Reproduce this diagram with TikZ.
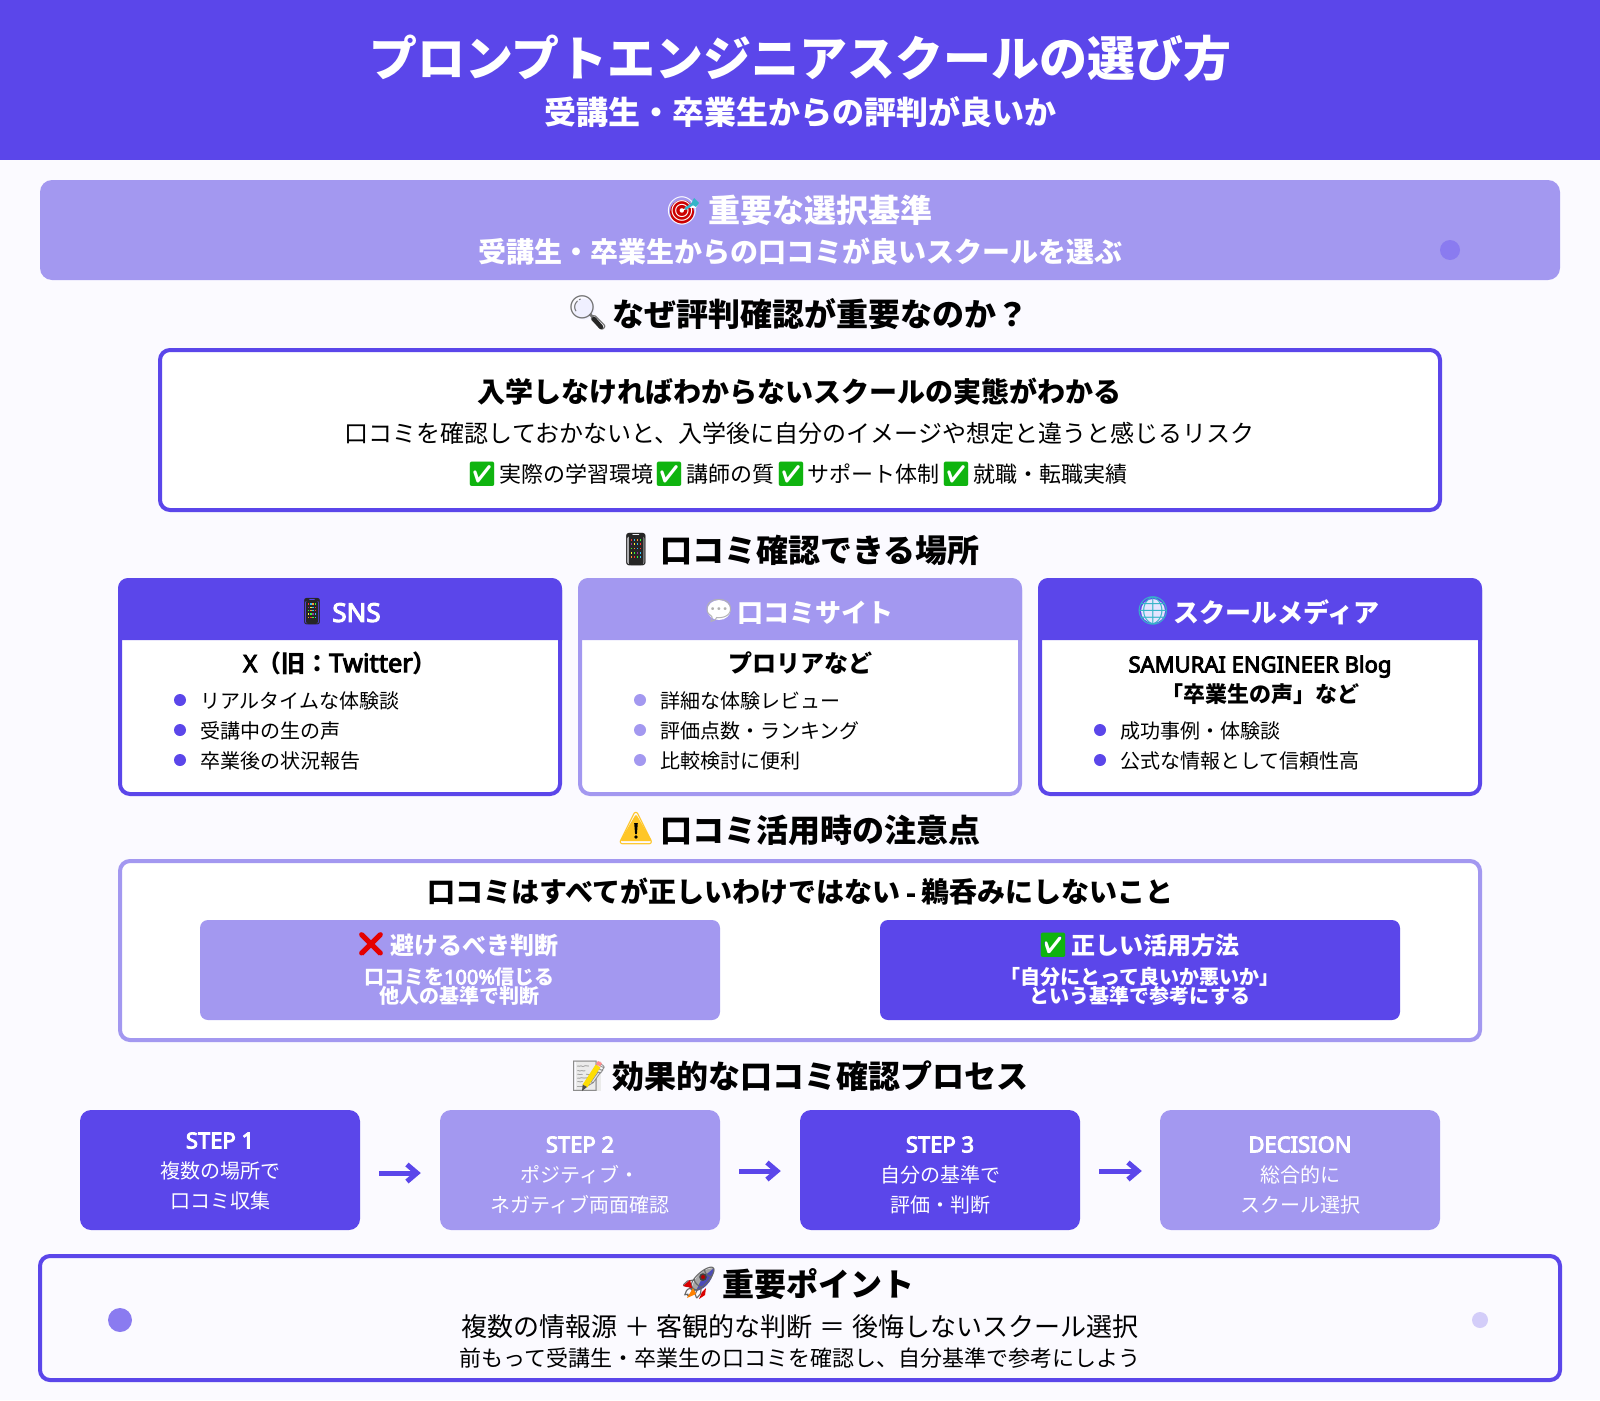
\documentclass[tikz,border=0pt]{standalone}
\usepackage{fontspec}
\usetikzlibrary{arrows.meta}
\setmainfont{Noto Sans CJK JP}
\newfontfamily\lat{Noto Sans}[AutoFakeBold=4]
\newfontfamily\emfont{Noto Emoji}
\definecolor{pur}{HTML}{5B46EA}
\definecolor{lit}{HTML}{A398F0}
\definecolor{mid}{HTML}{8A7BF0}
\definecolor{pale}{HTML}{D3CDF9}
\definecolor{pagebg}{HTML}{FBFAFF}
\definecolor{okgreen}{HTML}{0FB40F}
\definecolor{warny}{HTML}{FFC627}
\definecolor{dartteal}{HTML}{35B5C8}
\newcommand{\fz}[1]{\fontsize{#1pt}{#1pt}\selectfont}
% text node: name, x, glyph-centre y, size, style, text
\newcommand{\tx}[6]{\node[txt,#5,font=\fz{#4}] (#1) at (#2,{#3+0.38*#4}) {#6};}
\newcommand{\gly}[5]{\node[glyph,text=#5,font=\emfont\fz{#4}] (#1) at (#2,#3)}
% emoji: name, x, y, scale (1 = 32px)
\newcommand{\emTarget}[4]{\begin{scope}[shift={(#2,#3)},scale=#4]
 \fill[red!80!black] (-1,1) circle (12);
 \end{scope}\gly{#1}{#2}{#3}{28}{white}{🎯};
 \begin{scope}[shift={(#2,#3)},scale=#4]
 \draw[dartteal,line width=2.5] (2,-2) -- (11,-8);
 \fill[dartteal] (8,-7) -- (11,-13) -- (16,-8) -- (13,-4) -- cycle;
 \end{scope}}
\newcommand{\emGlass}[4]{\begin{scope}[shift={(#2,#3)},scale=#4]
 \fill[blue!6] (-4,-4) circle (10.5);
 \end{scope}\gly{#1}{#2}{#3}{34}{black!55}{🔍};
 \begin{scope}[shift={(#2,#3)},scale=#4]
 \draw[black!85,line width=4.5,line cap=round] (6,6) -- (13,14);
 \end{scope}}
\newcommand{\emPhone}[5]{\begin{scope}[shift={(#2,#3)},scale=#4]
 \fill[black!85,rounded corners=2.5] (-7.5,-15) rectangle (7.5,15);
 \end{scope}\gly{#1}{#2}{#3}{#5}{black!85}{📱};
 \begin{scope}[shift={(#2,#3)},scale=#4]
 \foreach \i/\c in {0/red,1/cyan,2/orange,3/green,4/violet,5/yellow,6/cyan,7/red,8/green,9/orange,10/cyan,11/red,12/yellow,13/green,14/violet,15/cyan,16/orange,17/red,18/green,19/cyan}{
  \pgfmathsetmacro\px{-4.5+3*mod(\i,4)}
  \pgfmathsetmacro\py{-10+4.2*floor(\i/4)}
  \fill[\c!80!white] (\px-.9,\py-.9) rectangle (\px+.9,\py+.9);}
 \end{scope}}
\newcommand{\emCheck}[4]{\begin{scope}[shift={(#2,#3)},scale=#4]
 \fill[white] (-8,-8) rectangle (8,8);
 \end{scope}\gly{#1}{#2}{#3}{24}{okgreen}{✅};}
\newcommand{\emCross}[4]{\gly{#1}{#2}{#3}{24}{red!90!black}{❌};
 \begin{scope}[shift={(#2,#3)},scale=#4]
 \draw[red!90!black,line width=5] (-9.5,-9.5) -- (9.5,9.5) (-9.5,9.5) -- (9.5,-9.5);
 \end{scope}}
\newcommand{\emBubble}[4]{\begin{scope}[shift={(#2,#3)},scale=#4]
 \fill[white] (0,-1) ellipse (11.5 and 10);
 \end{scope}\gly{#1}{#2}{#3}{28}{black!30}{💬};}
\newcommand{\emGlobe}[4]{\begin{scope}[shift={(#2,#3)},scale=#4]
 \fill[blue!10] (0,0) circle (12);
 \end{scope}\gly{#1}{#2}{#3}{28}{dartteal}{🌐};}
\newcommand{\emWarn}[4]{\begin{scope}[shift={(#2,#3)},scale=#4]
 \fill[warny,rounded corners=1.5] (0,-15) -- (16,12) -- (-16,12) -- cycle;
 \end{scope}\gly{#1}{#2}{#3}{32}{warny}{⚠};
 \begin{scope}[shift={(#2,#3)},scale=#4]
 \fill[black] (-1.8,-6) -- (1.8,-6) -- (.9,5) -- (-.9,5) -- cycle;
 \fill[black] (0,8) circle (1.8);
 \end{scope}}
\newcommand{\emMemo}[4]{\begin{scope}[shift={(#2,#3)},scale=#4]
 \fill[black!8] (-13,-15) rectangle (12,15);
 \end{scope}\gly{#1}{#2}{#3}{30}{black!45}{📝};
 \begin{scope}[shift={(#2,#3)},scale=#4]
 \draw[yellow!80!orange,line width=5.5] (-4,10) -- (9,-10);
 \fill[black!70] (-7,15) -- (-6.3,8.5) -- (-2,11) -- cycle;
 \fill[red!45!white] (7,-12) -- (11,-9.5) -- (13,-13) -- (9,-15) -- cycle;
 \end{scope}}
\newcommand{\emRocket}[4]{\begin{scope}[shift={(#2,#3)},scale=#4]
 \fill[black!35] (15,-15) .. controls (6,-15) and (-4,-8) .. (-7,4) -- (-3,8) .. controls (8,6) and (15,-6) .. (15,-15) -- cycle;
 \fill[blue!60!black!70] (3,-5) -- (15,-15) .. controls (15,-6) and (8,6) .. (-3,8) -- cycle;
 \end{scope}\gly{#1}{#2}{#3}{32}{black!60}{🚀};
 \begin{scope}[shift={(#2,#3)},scale=#4]
 \fill[orange] (-6,5) -- (-12,15) -- (-3,11) -- cycle;
 \fill[red!85!black] (-9,-3) -- (-16,3) -- (-7,5) -- cycle;
 \fill[red!85!black] (3,9) -- (0,16) -- (6,12) -- (7,5) -- cycle;
 \fill[black!75] (4,-6) circle (3.8);
 \fill[red!70!black] (4,-6) circle (2);
 \end{scope}}
\tikzset{
 txt/.style={inner sep=0pt,outer sep=0pt,anchor=base,text=black},
 glyph/.style={inner sep=0pt,outer sep=0pt,anchor=center},
 wh/.style={text=white},
 lft/.style={anchor=base west},
 dotp/.style={circle,fill=pur,minimum size=12pt,inner sep=0pt},
 dotl/.style={circle,fill=lit,minimum size=12pt,inner sep=0pt},
 frame/.style={rounded corners=10pt,line width=4pt,fill=white},
 pill/.style={rounded corners=8pt,draw=none},
 stepbox/.style={rounded corners=11pt,inner sep=0pt,minimum width=280pt,minimum height=120pt,anchor=center},
 flow/.style={draw=pur,line width=5pt,-{Straight Barb[length=10pt,width=17pt,line width=5pt]}},
 twoline/.style={inner sep=0pt,outer sep=0pt,anchor=center,align=center,text=white,font=\fontsize{20pt}{19.5pt}\selectfont\bfseries},
}
\begin{document}
\begin{tikzpicture}[x=1pt,y=-1pt]
\path[use as bounding box,fill=pagebg] (0,0) rectangle (1600,1400);
% header
\fill[pur] (0,0) rectangle (1600,160);
\node[txt,text=white,font=\fz{48}\bfseries] (title) at (800.5,{58+.38*48}) {プロンプトエンジニアスクールの選び方};
\node[txt,text=white,font=\fz{32}\bfseries] (subtitle) at (800,{112+.38*32}) {受講生・卒業生からの評判が良いか};
% banner
\fill[lit,rounded corners=12pt] (40,180) rectangle (1560,280);
\fill[mid] (1450,250) circle (10);
\emTarget{eA}{683}{211}{1}
\node[txt,text=white,font=\fz{32}\bfseries] (bnT) at (820,{210+.38*32}) {重要な選択基準};
\node[txt,text=white,font=\fz{28}\bfseries] (bnS) at (800,{252+.38*28}) {受講生・卒業生からの口コミが良いスクールを選ぶ};
% section 1
\emGlass{eB}{588}{313}{1}
\node[txt,font=\fz{32}\bfseries] (s1) at (820,{314+.38*32}) {なぜ評判確認が重要なのか？};
\draw[draw=pur,frame] (160,350) rectangle (1440,510);
\node[txt,font=\fz{28}\bfseries] (b1T) at (799,{392+.38*28}) {入学しなければわからないスクールの実態がわかる};
\tx{b1L}{799.5}{433}{24}{}{口コミを確認しておかないと、入学後に自分のイメージや想定と違うと感じるリスク}
\emCheck{c1}{482}{474}{1}
\tx{b1a}{576}{474}{22}{}{実際の学習環境}
\emCheck{c2}{669}{474}{1}
\tx{b1b}{730}{474}{22}{}{講師の質}
\emCheck{c3}{791}{474}{1}
\tx{b1c}{873.5}{474}{22}{}{サポート体制}
\emCheck{c4}{956}{474}{1}
\tx{b1d}{1050}{474}{22}{}{就職・転職実績}
% section 2
\emPhone{eC}{636}{550}{1}{32}
\node[txt,font=\fz{32}\bfseries] (s2) at (820,{550+.38*32}) {口コミ確認できる場所};
% cards
\foreach \xa/\xb/\col in {120/560/pur,580/1020/lit,1040/1480/pur}{
 \draw[draw=\col,frame] (\xa,580) rectangle (\xb,794);
 \fill[\col,rounded corners=10pt] (\xa-2,640) -- (\xa-2,578) -- (\xb+2,578) -- (\xb+2,640);
 \fill[\col] (\xa-2,630) rectangle (\xb+2,640);
}
\emPhone{eD}{312}{612}{.8}{26}
\node[txt,text=white,font=\fz{26}\lat\bfseries] (h1) at (356.5,{612+.38*26}) {SNS};
\emBubble{eE}{719}{611}{1}
\node[txt,text=white,font=\fz{26}\bfseries] (h2) at (815.5,{613+.38*26}) {口コミサイト};
\emGlobe{eF}{1153}{611}{1}
\node[txt,text=white,font=\fz{26}\bfseries] (h3) at (1276.5,{613+.38*26}) {スクールメディア};
\node[txt,font=\fz{24}\bfseries] (c1T) at (340,{663+.38*24}) {{\lat X}（旧：{\lat\fontsize{25.5pt}{25.5pt}\selectfont Twitter}）};
\node[txt,font=\fz{24}\bfseries] (c2T) at (800,{663+.38*24}) {プロリアなど};
\node[txt,font=\fz{22}\lat\bfseries] (c3T) at (1260,{664+.38*22}) {SAMURAI ENGINEER Blog};
\node[txt,font=\fz{22}\bfseries] (c3U) at (1260,{694+.38*22}) {「卒業生の声」など};
\foreach \n/\y/\t in {a/701/リアルタイムな体験談,b/731/受講中の生の声,c/761/卒業後の状況報告}{
 \node[dotp] (d1\n) at (180,\y-1) {};
 \node[txt,lft,font=\fz{20}] (t1\n) at (200,{\y+.38*20}) {\t};}
\foreach \n/\y/\t in {a/701/詳細な体験レビュー,b/731/評価点数・ランキング,c/761/比較検討に便利}{
 \node[dotl] (d2\n) at (640,\y-1) {};
 \node[txt,lft,font=\fz{20}] (t2\n) at (660,{\y+.38*20}) {\t};}
\foreach \n/\y/\t in {b/731/成功事例・体験談,c/761/公式な情報として信頼性高}{
 \node[dotp] (d3\n) at (1100,\y-1) {};
 \node[txt,lft,font=\fz{20}] (t3\n) at (1120,{\y+.38*20}) {\t};}
% section 3
\emWarn{eG}{636}{829}{1}
\node[txt,font=\fz{32}\bfseries] (s3) at (820,{830+.38*32}) {口コミ活用時の注意点};
\draw[draw=lit,frame] (120,861) rectangle (1480,1040);
\node[txt,font=\fz{28}\bfseries] (wT) at (800.5,{892+.38*28}) {口コミはすべてが正しいわけではない{\lat\bfseries\kern-1pt\ -\ \kern-1pt}鵜呑みにしないこと};
\fill[lit,pill] (200,920) rectangle (720,1020);
\fill[pur,pill] (880,920) rectangle (1400,1020);
\emCross{eH}{371}{944}{1}
\node[txt,text=white,font=\fz{24}\bfseries] (wA) at (474,{945+.38*24}) {避けるべき判断};
\node[twoline] (wA1) at (459.5,986.5) {口コミを{\lat\bfseries 100\%}信じる\\他人の基準で判断};
\emCheck{c5}{1053}{945}{1}
\node[txt,text=white,font=\fz{24}\bfseries] (wB) at (1155,{945+.38*24}) {正しい活用方法};
\node[twoline] (wB1) at (1140,986.5) {「自分にとって良いか悪いか」\\という基準で参考にする};
% section 4
\emMemo{eI}{589}{1076}{1}
\node[txt,font=\fz{32}\bfseries] (s4) at (820,{1076+.38*32}) {効果的な口コミ確認プロセス};
\node[stepbox,fill=pur] (st1) at (220,1170) {};
\node[stepbox,fill=lit] (st2) at (580,1170) {};
\node[stepbox,fill=pur] (st3) at (940,1170) {};
\node[stepbox,fill=lit] (st4) at (1300,1170) {};
\node[txt,text=white,font=\fz{22}\lat\bfseries] (st1T) at (220,{1140+.38*22}) {STEP 1};
\tx{st1a}{220}{1171}{20}{wh}{複数の場所で}
\tx{st1b}{220}{1201}{20}{wh}{口コミ収集}
\node[txt,text=white,font=\fz{22}\lat\bfseries] (st2T) at (580,{1144+.38*22}) {STEP 2};
\tx{st2a}{580}{1175}{20}{wh}{ポジティブ・}
\tx{st2b}{580}{1205}{20}{wh}{ネガティブ両面確認}
\node[txt,text=white,font=\fz{22}\lat\bfseries] (st3T) at (940,{1144+.38*22}) {STEP 3};
\tx{st3a}{940}{1175}{20}{wh}{自分の基準で}
\tx{st3b}{940}{1205}{20}{wh}{評価・判断}
\node[txt,text=white,font=\fz{22}\lat\bfseries] (st4T) at (1300,{1144+.38*22}) {DECISION};
\tx{st4a}{1300}{1175}{20}{wh}{総合的に}
\tx{st4b}{1300}{1205}{20}{wh}{スクール選択}
\draw[flow,shorten <=19pt,shorten >=19pt] ([yshift=-3pt]st1.east) -- ([yshift=-3pt]st2.west);
\draw[flow,shorten <=19pt,shorten >=19pt] ([yshift=-1pt]st2.east) -- ([yshift=-1pt]st3.west);
\draw[flow,shorten <=19pt,shorten >=18pt] ([yshift=-1pt]st3.east) -- ([yshift=-1pt]st4.west);
% bottom
\draw[draw=pur,frame,fill=pagebg] (40,1256) rectangle (1560,1380);
\fill[mid] (120,1320) circle (12);
\fill[pale] (1480,1320) circle (8);
\emRocket{eJ}{699}{1283}{1}
\node[txt,font=\fz{32}\bfseries] (bT) at (818.5,{1284+.38*32}) {重要ポイント};
\tx{bL1}{800}{1327}{26}{}{複数の情報源\kern1pt\ ＋\kern1pt\ 客観的な判断\kern1pt\ ＝\kern1pt\ 後悔しないスクール選択}
\tx{bL2}{800}{1358}{22}{}{前もって受講生・卒業生の口コミを確認し、自分基準で参考にしよう}
\end{tikzpicture}
\end{document}
